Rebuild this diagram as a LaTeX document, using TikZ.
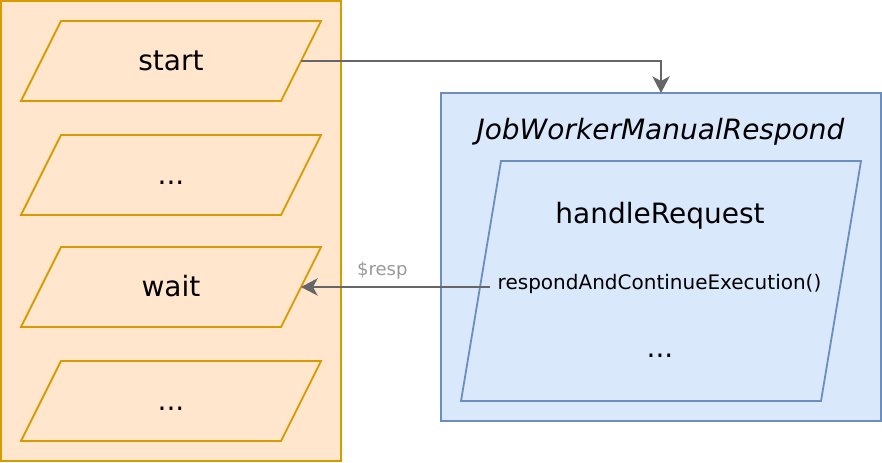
\documentclass[tikz,border=0pt]{standalone}
\usepackage{fontspec}
\setmainfont{DejaVu Sans}
\usepackage{xcolor}
\usetikzlibrary{arrows.meta}

\definecolor{orangefill}{RGB}{255,230,204}
\definecolor{orangeline}{RGB}{215,155,0}
\definecolor{bluefill}{RGB}{218,232,252}
\definecolor{blueline}{RGB}{108,142,191}
\definecolor{edgegrey}{RGB}{102,102,102}
\definecolor{labelgrey}{RGB}{153,153,153}

\tikzset{
  bigtext/.style={font=\fontsize{21}{25}\selectfont, text height=19.5pt, text depth=5pt},
  smalltext/.style={font=\fontsize{15}{18}\selectfont, text height=14pt, text depth=3.6pt},
  labeltext/.style={font=\fontsize{13.5}{16}\selectfont, text height=12.6pt, text depth=3.2pt},
  stepline/.style={draw=orangeline, fill=orangefill, line width=1.35pt},
  stepbox/.style={bigtext, minimum width=195pt, minimum height=60pt, inner sep=0pt, outer sep=0pt},
  flowarrow/.style={draw=edgegrey, line width=1.35pt,
    -{Stealth[length=12.5pt,width=13pt,inset=3.5pt]}},
}

\begin{document}
\begin{tikzpicture}[x=0.75pt,y=0.75pt,yscale=-1,xscale=1]
\useasboundingbox (0,0) rectangle (882,462);

%Shape: Rectangle [id:process]
\node [draw=orangeline, fill=orangefill, line width=1.35pt, minimum width=255pt, minimum height=345pt, inner sep=0pt, outer sep=0pt] (process) at (171,231) {};

%Shape: Parallelogram steps
\foreach \y in {61,175,287,401}
  \draw [stepline] (21,\y+40) -- (61,\y-40) -- (321,\y-40) -- (281,\y+40) -- cycle;

% Text Node
\node [stepbox] (start) at (171,61) {start};
% Text Node
\node [stepbox] (dotsa) at (171,175) {...};
% Text Node
\node [stepbox] (wait) at (171,287) {wait};
% Text Node
\node [stepbox] (dotsb) at (171,401) {...};

%Shape: Rectangle [id:worker]
\node [draw=blueline, fill=bluefill, line width=1.35pt, minimum width=330pt, minimum height=246pt, inner sep=0pt, outer sep=0pt] (worker) at (661,257) {};

% Text Node
\node [bigtext, font=\itshape\fontsize{21}{25}\selectfont] (title) at (660.5,129.5) {JobWorkerManualRespond};

%Shape: Parallelogram [id:handler]
\draw [draw=blueline, fill=bluefill, line width=1.35pt] (461,401) -- (501,161) -- (861,161) -- (821,401) -- cycle;

% Text Node
\node [bigtext] (handle) at (660,213.5) {handleRequest};
% Text Node
\node [smalltext, inner sep=0pt] (respond) at (659.5,283) {respondAndContinueExecution()};
% Text Node
\node [bigtext] (more) at (660,347.5) {...};

%Straight Lines [id:request]
\draw [flowarrow] (start.east) -| (worker.north);
%Straight Lines [id:resp]
\draw [flowarrow] ([xshift=-5.5pt]respond.west |- wait.east) -- (wait.east)
  node [labeltext, pos=0.57, yshift=13.5, text=labelgrey] (resp) {\$resp};

\end{tikzpicture}
\end{document}
